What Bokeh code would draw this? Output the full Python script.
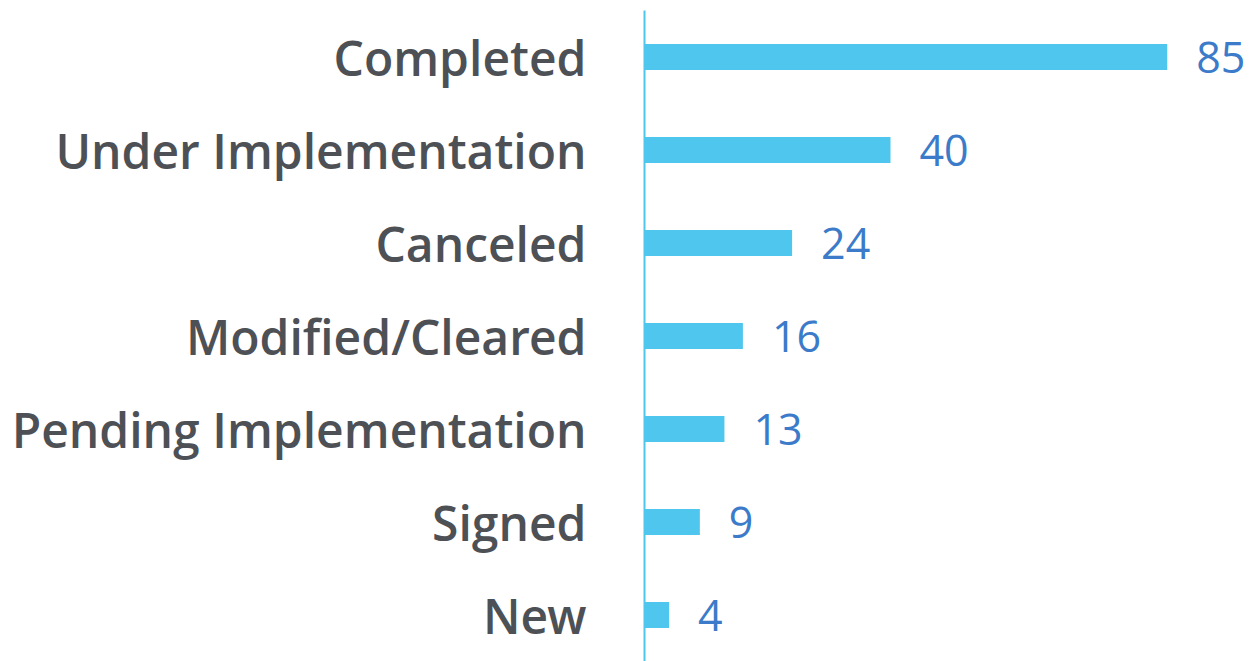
from bokeh.plotting import figure
from bokeh.models import ColumnDataSource, Range1d, FactorRange
from bokeh.core.properties import value
from bokeh.embed import file_html
from bokeh.resources import INLINE

categories = ["Completed", "Under Implementation", "Canceled", "Modified/Cleared",
              "Pending Implementation", "Signed", "New"]
counts = [85, 40, 24, 16, 13, 9, 4]
count_labels = [str(c) for c in counts]

src = ColumnDataSource(dict(cat=categories, val=counts, lab=count_labels))

p = figure(width=1251, height=661, output_backend="svg", toolbar_location=None,
           y_range=FactorRange(*reversed(categories), range_padding=0),
           x_range=Range1d(0, 98.7),
           min_border_left=644, min_border_right=0, min_border_top=10, min_border_bottom=0)
p.outline_line_color = None
p.grid.visible = False
p.xaxis.visible = False
p.background_fill_color = "white"
p.border_fill_color = "white"

p.hbar(y="cat", right="val", left=0, height=0.28, source=src,
       fill_color="#4fc6ee", line_color=None)

p.text(x="val", y="cat", text="lab", source=src, x_offset=29,
       text_align="left", text_baseline="middle",
       text_font=value("Open Sans"), text_font_size="43px", text_color="#3b7bc9")

ya = p.yaxis[0]
ya.axis_line_color = "#4fc6ee"
ya.axis_line_width = 2
ya.major_tick_line_color = None
ya.minor_tick_line_color = None
ya.major_label_standoff = 52
ya.major_label_text_font = "Open Sans SemiBold"
ya.major_label_text_font_size = "48px"
ya.major_label_text_color = "#4d5055"

open("out.html", "w").write(file_html(p, INLINE))
